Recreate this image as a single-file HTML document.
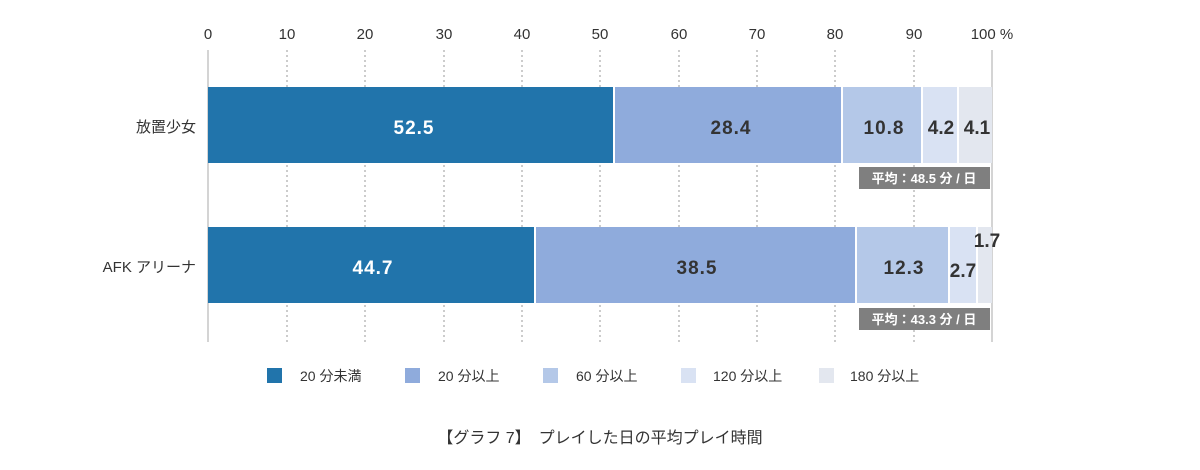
<!DOCTYPE html>
<html><head><meta charset="utf-8"><style>
body{margin:0;background:#fff}
svg{display:block;font-family:"Liberation Sans","Noto Sans CJK JP",sans-serif}
</style></head><body>
<svg width="1200" height="470" viewBox="0 0 1200 470">
<g stroke="#999" stroke-dasharray="2,3" stroke-width="1">
<line x1="287" y1="50" x2="287" y2="342"/><line x1="365" y1="50" x2="365" y2="342"/>
<line x1="444" y1="50" x2="444" y2="342"/><line x1="522" y1="50" x2="522" y2="342"/>
<line x1="600" y1="50" x2="600" y2="342"/><line x1="679" y1="50" x2="679" y2="342"/>
<line x1="757" y1="50" x2="757" y2="342"/><line x1="835" y1="50" x2="835" y2="342"/>
<line x1="914" y1="50" x2="914" y2="342"/>
</g>
<line x1="208" y1="50" x2="208" y2="342" stroke="#aaa"/>
<line x1="992" y1="50" x2="992" y2="342" stroke="#aaa"/>
<g font-size="15" fill="#333" text-anchor="middle">
<text x="208" y="39">0</text><text x="287" y="39">10</text><text x="365" y="39">20</text>
<text x="444" y="39">30</text><text x="522" y="39">40</text><text x="600" y="39">50</text>
<text x="679" y="39">60</text><text x="757" y="39">70</text><text x="835" y="39">80</text>
<text x="914" y="39">90</text><text x="992" y="39">100 %</text>
</g>
<rect x="208" y="87" width="405" height="76" fill="#2174ab"/>
<rect x="615" y="87" width="226" height="76" fill="#8fabdc"/>
<rect x="843" y="87" width="78" height="76" fill="#b4c8e8"/>
<rect x="923" y="87" width="34" height="76" fill="#d9e2f3"/>
<rect x="959" y="87" width="33" height="76" fill="#e3e7ef"/>
<rect x="208" y="227" width="326" height="76" fill="#2174ab"/>
<rect x="536" y="227" width="319" height="76" fill="#8fabdc"/>
<rect x="857" y="227" width="91" height="76" fill="#b4c8e8"/>
<rect x="950" y="227" width="26" height="76" fill="#d9e2f3"/>
<rect x="978" y="227" width="14" height="76" fill="#e3e7ef"/>
<g font-size="19" font-weight="bold" text-anchor="middle" fill="#333" letter-spacing="1">
<text x="414" y="134" fill="#fff">52.5</text><text x="731" y="134">28.4</text>
<text x="884" y="134">10.8</text><text x="941" y="134" letter-spacing="0">4.2</text><text x="977" y="134" letter-spacing="0">4.1</text>
<text x="373" y="274" fill="#fff">44.7</text><text x="697" y="274">38.5</text>
<text x="904" y="274">12.3</text><text x="963" y="277" letter-spacing="0">2.7</text><text x="987" y="247" letter-spacing="0">1.7</text>
</g>
<rect x="859" y="167" width="131" height="22" fill="#7f7f7f"/>
<rect x="859" y="308" width="131" height="22" fill="#7f7f7f"/>
<g font-size="13" font-weight="bold" fill="#fff" text-anchor="middle">
<text x="924" y="183">平均：48.5 分 / 日</text>
<text x="924" y="324">平均：43.3 分 / 日</text>
</g>
<g font-size="15" fill="#333" text-anchor="end">
<text x="196" y="132">放置少女</text><text x="196" y="272">AFK アリーナ</text>
</g>
<rect x="267" y="368" width="15" height="15" fill="#2174ab"/>
<rect x="405" y="368" width="15" height="15" fill="#8fabdc"/>
<rect x="543" y="368" width="15" height="15" fill="#b4c8e8"/>
<rect x="681" y="368" width="15" height="15" fill="#d9e2f3"/>
<rect x="819" y="368" width="15" height="15" fill="#e3e7ef"/>
<g font-size="14" fill="#333">
<text x="300" y="381">20 分未満</text><text x="438" y="381">20 分以上</text>
<text x="576" y="381">60 分以上</text><text x="713" y="381">120 分以上</text>
<text x="850" y="381">180 分以上</text>
</g>
<text x="600" y="443" font-size="16" fill="#333" text-anchor="middle">【グラフ 7】　プレイした日の平均プレイ時間</text>
</svg>
</body></html>
